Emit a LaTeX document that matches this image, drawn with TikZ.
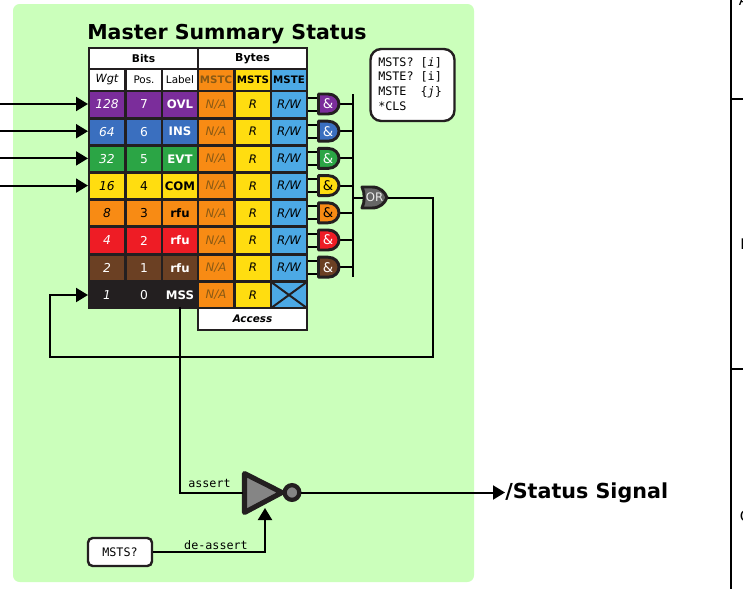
\documentclass[tikz,border=0pt]{standalone}
\usepackage{fontspec}
\setmainfont{DejaVu Sans}
\setmonofont{DejaVu Sans Mono}
\usetikzlibrary{arrows.meta,calc}
\definecolor{panelgreen}{HTML}{CBFFBB}
\definecolor{ink}{HTML}{231F20}
\definecolor{cpurple}{HTML}{7B2D9B}
\definecolor{cblue}{HTML}{3A6FBF}
\definecolor{cgreen}{HTML}{2BA545}
\definecolor{cyellow}{HTML}{FFDD10}
\definecolor{corange}{HTML}{F88B14}
\definecolor{cred}{HTML}{EE1C25}
\definecolor{cbrown}{HTML}{6B4023}
\definecolor{csky}{HTML}{4CA9E5}
\definecolor{naink}{HTML}{8A5A14}
\definecolor{ggrey}{HTML}{666666}
\tikzset{
  cell/.style={inner sep=0pt, minimum width=25pt, minimum height=18.1pt, font=\fontsize{9.2}{9}\selectfont},
  headcell/.style={cell, minimum height=14.4pt, font=\fontsize{7.8}{9}\selectfont},
  wire/.style={draw=black, line width=1.5pt},
  sigarrow/.style={wire, -{Triangle[length=9pt,width=10.5pt]}},
  gate/.style={draw=ink, line width=2.2pt, line join=round},
  cmdbox/.style={draw=ink, fill=white, line width=1.8pt, rounded corners=5pt},
  monotext/.style={font=\ttfamily\fontsize{8.8}{10}\selectfont, inner sep=0pt},
  cutletter/.style={inner sep=0pt, anchor=west, font=\fontsize{11}{12}\selectfont},
}
\begin{document}
\begin{tikzpicture}[x=0.75pt, y=-0.75pt]
  \useasboundingbox (0, 0) rectangle (743, 589);
  % panel
  \fill[panelgreen] (13, 4) [rounded corners=5pt] rectangle (474, 582);
  \node[font=\bfseries\fontsize{15.4}{18}\selectfont, anchor=west, inner sep=0pt] (title) at (87, 34) {Master Summary Status};
  % table
  \fill[ink] (88, 47) rectangle (308, 309);
  \fill[ink] (197, 306) rectangle (308, 331);
  \node[headcell, fill=white, minimum width=80.5pt, font=\bfseries\fontsize{8}{9}\selectfont] (bits) at (143.5, 58.5) {Bits};
  \node[headcell, fill=white, minimum width=80pt, font=\bfseries\fontsize{8.2}{9}\selectfont] (bytes) at (252.5, 58.5) {Bytes};
  \node[headcell, fill=white, font=\itshape\fontsize{8.5}{9}\selectfont] (wgt) at (107, 80) {Wgt};
  \node[headcell, fill=white] (pos) at (144, 80) {Pos.};
  \node[headcell, fill=white] (label) at (180, 80) {Label};
  \node[headcell, fill=corange, text=naink, font=\bfseries\fontsize{7.7}{9}\selectfont] (mstc) at (216, 80) {MSTC};
  \node[headcell, fill=cyellow, font=\bfseries\fontsize{7.7}{9}\selectfont] (msts) at (253, 80) {MSTS};
  \node[headcell, fill=csky, font=\bfseries\fontsize{7.7}{9}\selectfont] (mste) at (289, 80) {MSTE};
  \foreach \i/\wval/\bval/\lab/\col/\txt in {0/128/7/OVL/cpurple/white, 1/64/6/INS/cblue/white, 2/32/5/EVT/cgreen/white, 3/16/4/COM/cyellow/black, 4/8/3/rfu/corange/black, 5/4/2/rfu/cred/white, 6/2/1/rfu/cbrown/white, 7/1/0/MSS/ink/white}{
    \pgfmathsetmacro{\yy}{104.5+27.2*\i}
    \node[cell, fill=\col, text=\txt, font=\itshape\fontsize{9.2}{9}\selectfont] (wgt\i) at (107, \yy) {\wval};
    \node[cell, fill=\col, text=\txt] (pos\i) at (144, \yy) {\bval};
    \node[cell, fill=\col, text=\txt, font=\bfseries\fontsize{8.8}{9}\selectfont] (lab\i) at (180, \yy) {\lab};
    \node[cell, fill=corange, text=naink, font=\itshape\fontsize{8.8}{9}\selectfont] (mstc\i) at (216, \yy) {N/A};
    \node[cell, fill=cyellow, font=\itshape\fontsize{8.8}{9}\selectfont] (msts\i) at (253, \yy) {R};
  }
  \node[headcell, fill=white, minimum width=80pt, font=\bfseries\itshape\fontsize{7.8}{9}\selectfont] (access) at (252.5, 319) {Access};
  \node[cell, fill=csky] (mste7) at (289, 295) {};
  \draw[ink, line width=1.5pt] (mste7.north west) -- (mste7.south east) (mste7.south west) -- (mste7.north east);
  % and gates
  \coordinate (bustop) at (353, 94);
  \coordinate (busbot) at (353, 277);
  \foreach \i/\col/\txt in {0/cpurple/white, 1/cblue/white, 2/cgreen/white, 3/cyellow/black, 4/corange/black, 5/cred/white, 6/cbrown/white}{
    \pgfmathsetmacro{\yy}{104+27.2*\i}
    \node[cell, fill=csky, font=\itshape\fontsize{8.8}{9}\selectfont] (rw\i) at (289, \yy+.5) {R/W};
    \draw[wire] (308, \yy-6.5) -- (318, \yy-6.5);
    \draw[wire] (308, \yy+6.5) -- (318, \yy+6.5);
    \draw[wire] (339, \yy) -- (353, \yy);
    \draw[gate, fill=\col] (318.5, \yy-10) -- (328, \yy-10) .. controls (335, \yy-10) and (339, \yy-5) .. (339, \yy) .. controls (339, \yy+5) and (335, \yy+10) .. (328, \yy+10) -- (318.5, \yy+10) -- cycle;
    \node[inner sep=0pt, text=\txt, font=\fontsize{10}{11}\selectfont] (and\i) at (328, \yy) {\&};
    \coordinate (in\i) at (88, \yy);
  }
  \draw[wire] (bustop) -- (busbot);
  % or gate
  \draw[wire] (353, 197.5) -- (364, 197.5);
  \draw[gate, fill=ggrey] (362, 187) -- (372, 187) .. controls (380, 187) and (385, 192) .. (387, 197.5) .. controls (385, 203) and (380, 208) .. (372, 208) -- (362, 208) .. controls (365, 202) and (365, 193) .. (362, 187) -- cycle;
  \node[inner sep=0pt, text=white!92!black, font=\fontsize{8.8}{9}\selectfont] (orgate) at (374.5, 197.5) {OR};
  % inputs
  \foreach \i in {0, 1, 2, 3}{
    \draw[sigarrow] (0, 0 |- in\i) -- (in\i);
  }
  % feedback
  \coordinate (fbstart) at (388, 197.5);
  \coordinate (mssin) at (88, 295);
  \draw[sigarrow] (fbstart) -- (433, 197.5) -- (433, 357) -- (50, 357) -- (50, 295) -- (mssin);
  % command box
  \node[cmdbox, rounded corners=8pt, minimum width=63pt, minimum height=54pt] (cmds) at (412.5, 85) {};
  \node[monotext, anchor=west] (cmd1) at (378, 63) {MSTS? [\textit{i}]};
  \node[monotext, anchor=west] (cmd2) at (378, 77) {MSTE? [i]};
  \node[monotext, anchor=west] (cmd3) at (378, 92) {MSTE~~\{\textit{j}\}};
  \node[monotext, anchor=west] (cmd4) at (378, 106) {*CLS};
  % inverter
  \draw[draw=ink, fill=ggrey!80!white, line width=3.8pt, line join=round] (244.5, 473.5) -- (244.5, 512.5) -- (282, 492.5) -- cycle;
  \node[circle, draw=ink, fill=ggrey!80!white, line width=3.2pt, minimum size=11pt, inner sep=0pt] (bubble) at (292, 492.5) {};
  \coordinate (invin) at (243, 492.5);
  \coordinate (deassertin) at (265, 508);
  \draw[wire] (lab7.south) -- (180, 492.5) -- (invin);
  \node[cmdbox, rounded corners=3.5pt, minimum width=48pt, minimum height=21pt, monotext] (mstsq) at (120, 552) {MSTS?};
  \draw[sigarrow] (mstsq.east) -- (265, 552) -- (deassertin);
  \node[monotext] (assert) at (209.5, 483) {assert};
  \node[monotext] (deassert) at (216, 545.5) {de-assert};
  \node[anchor=west, inner sep=0pt, font=\bfseries\fontsize{15.5}{18}\selectfont] (status) at (505, 493) {/Status Signal};
  \draw[sigarrow] (bubble.east) -- (status.west |- bubble.east);
  % neighbouring column, cut by the page edge
  \draw[black, line width=2.2pt] (731, 0) -- (731, 589);
  \draw[black, line width=2.2pt] (731, 99) -- (743, 99);
  \draw[black, line width=2.2pt] (731, 369) -- (743, 369);
  \begin{scope}
    \clip (733, 0) rectangle (743, 589);
    \node[cutletter] (capa) at (738.5, 0) {A};
    \node[cutletter] (cape) at (740, 244) {E};
    \node[cutletter] (capc) at (739.5, 516) {C};
  \end{scope}
\end{tikzpicture}
\end{document}
